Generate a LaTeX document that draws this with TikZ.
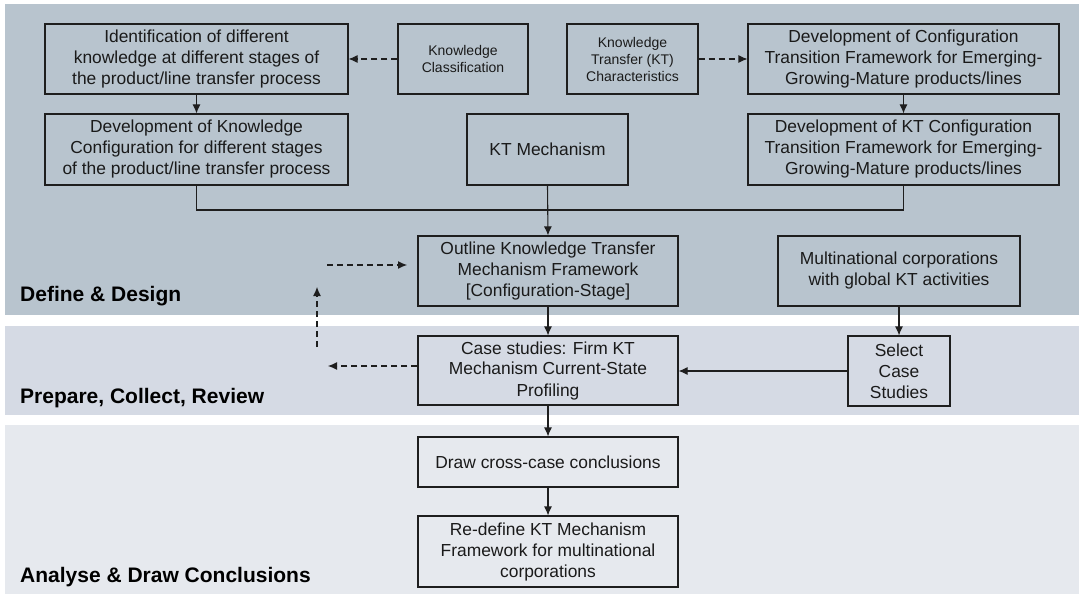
\documentclass[tikz,border=0pt]{standalone}
\usepackage{fontspec}
\setmainfont{Liberation Sans}
\usetikzlibrary{arrows.meta}
\definecolor{bandA}{HTML}{B8C4CE}
\definecolor{bandB}{HTML}{D5DAE4}
\definecolor{bandC}{HTML}{E6E9EE}
\definecolor{lineC}{HTML}{1E1E1E}
\definecolor{txtC}{HTML}{1A1A1A}
\begin{document}
\begin{tikzpicture}[x=1pt,y=-1pt,
  box/.style={draw=lineC,line width=1.1pt,align=center,inner sep=0pt,text=txtC,font=\fontsize{17.4}{21}\selectfont},
  sbox/.style={box,font=\fontsize{14}{17}\selectfont},
  conn/.style={line width=1.1pt,draw=lineC},
  arr/.style={conn,-{Latex[length=9pt,width=8pt]}},
  darr/.style={arr,dash pattern=on 6pt off 4pt},
  lab/.style={anchor=west,inner sep=0pt,text=black,font=\bfseries\fontsize{21}{25}\selectfont}]
\useasboundingbox (0,0) rectangle (1079,596);
\fill[white] (0,0) rectangle (1079,596);
\fill[bandA] (5,4) rectangle (1079,315);
\fill[bandB] (5,326) rectangle (1079,415);
\fill[bandC] (5,425) rectangle (1079,594);

\node[box,minimum width=303pt,minimum height=70pt] (ident) at (196.5,59) {Identification of different\\knowledge at different stages of\\the product/line transfer process};
\node[sbox,minimum width=130pt,minimum height=70pt] (kclass) at (463,59) {Knowledge\\Classification};
\node[sbox,minimum width=131pt,minimum height=70pt] (ktchar) at (632.5,59) {Knowledge\\Transfer (KT)\\Characteristics};
\node[box,minimum width=311pt,minimum height=70pt] (devct) at (903.5,59) {Development of Configuration\\Transition Framework for Emerging-\\Growing-Mature products/lines};
\node[box,minimum width=303pt,minimum height=71pt] (devkc) at (196.5,149.5) {Development of Knowledge\\Configuration for different stages\\of the product/line transfer process};
\node[box,minimum width=161pt,minimum height=71pt] (ktmech) at (547.5,149.5) {KT Mechanism};
\node[box,minimum width=311pt,minimum height=71pt] (devktc) at (903.5,149.5) {Development of KT Configuration\\Transition Framework for Emerging-\\Growing-Mature products/lines};
\node[box,minimum width=260pt,minimum height=70pt] (outline) at (548,271) {Outline Knowledge Transfer\\Mechanism Framework\\{[}Configuration-Stage{]}};
\node[box,minimum width=242pt,minimum height=70pt] (multi) at (899,271) {Multinational corporations\\with global KT activities};
\node[box,minimum width=260pt,minimum height=69pt] (cases) at (548,370.5) {Case studies: Firm KT\\Mechanism Current-State\\Profiling};
\node[box,minimum width=102pt,minimum height=70pt] (select) at (899,371) {Select\\Case\\Studies};
\node[box,minimum width=260pt,minimum height=50pt] (drawc) at (548,462) {Draw cross-case conclusions};
\node[box,minimum width=260pt,minimum height=71pt] (redef) at (548,551.5) {Re-define KT Mechanism\\Framework for multinational\\corporations};

\node[lab] (l1) at (20,296) {Define \& Design};
\node[lab] (l2) at (20,398) {Prepare, Collect, Review};
\node[lab] (l3) at (20,577) {Analyse \& Draw Conclusions};

\coordinate (a1) at (327,265);
\coordinate (a2) at (407,265);
\coordinate (v1) at (317,347);
\coordinate (v2) at (317,287);
\coordinate (c3) at (328,366);

\draw[darr] (kclass.west) -- (ident.east);
\draw[darr] (ktchar.east) -- (devct.west);
\draw[arr] (ident.south) -- (devkc.north);
\draw[arr] (devct.south) -- (devktc.north);
\draw[conn] (devkc.south) -- (196.5,210) -| (devktc.south);
\draw[arr] (ktmech.south) -- (outline.north);
\draw[arr] (outline.south) -- (cases.north);
\draw[arr] (multi.south) -- (select.north);
\draw[arr] (select.west) -- (cases.east |- select.west);
\draw[arr] (cases.south) -- (drawc.north);
\draw[arr] (drawc.south) -- (redef.north);
\draw[darr] (a1) -- (a2);
\draw[darr] (v1) -- (v2);
\draw[darr] (cases.west |- c3) -- (c3);
\end{tikzpicture}
\end{document}
